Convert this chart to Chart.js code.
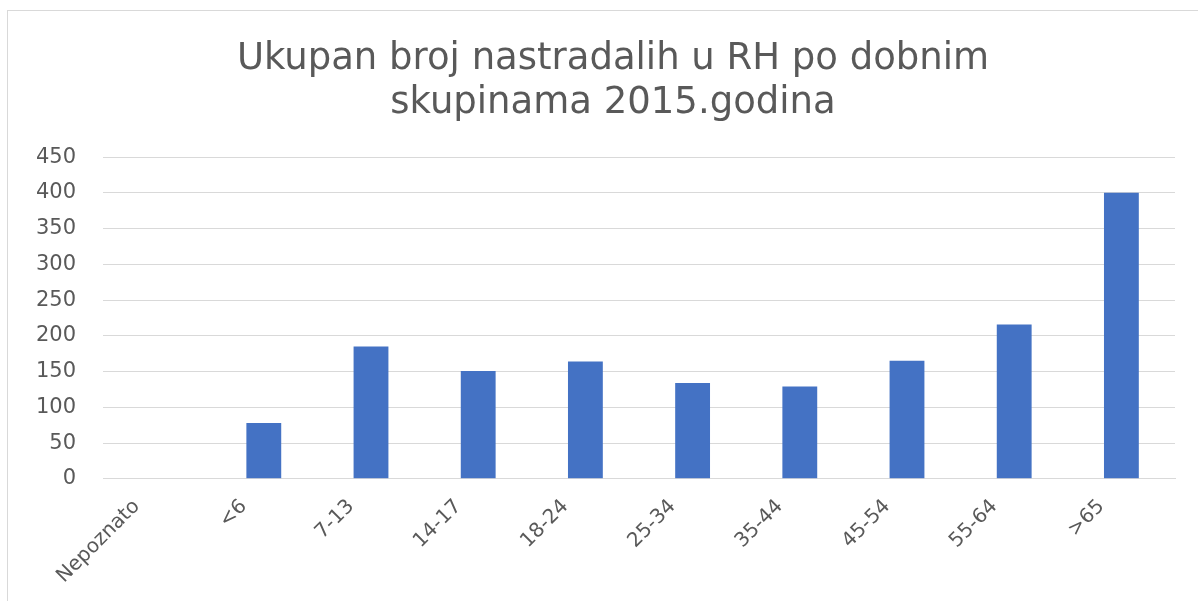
<!DOCTYPE html>
<html>
<head>
<meta charset="utf-8">
<script src="https://cdn.jsdelivr.net/npm/chart.js@4.4.0/dist/chart.umd.min.js"></script>
<style>
  html, body { margin: 0; padding: 0; background: #fff; }
  #wrap { position: relative; width: 1198px; height: 601px; overflow: hidden; }
  #frame { position: absolute; left: 7px; top: 10px; width: 1200px; height: 600px; border: 1px solid #d9d9d9; box-sizing: border-box; }
  #c { position: absolute; left: 0; top: 0; }
</style>
</head>
<body>
<div id="wrap">
  <div id="frame"></div>
  <canvas id="c" width="1198" height="606"></canvas>
</div>
<script>
// age groups and casualties
const categories = ['Nepoznato', '<6', '7-13', '14-17', '18-24', '25-34', '35-44', '45-54', '55-64', '>65'];
const casualties = [0, 78, 185, 151, 164, 134, 129, 165, 216, 400];
const yTicks = [0, 50, 100, 150, 200, 250, 300, 350, 400, 450];
const titleLines = ['Ukupan broj nastradalih u RH po dobnim', 'skupinama 2015.godina'];

const textColor = '#595959';
const fontFamily = '"DejaVu Sans", sans-serif';

new Chart(document.getElementById('c'), {
  type: 'bar',
  data: {
    labels: categories,
    datasets: [{
      data: casualties,
      backgroundColor: '#4472C4',
      borderWidth: 0,
      barPercentage: 0.65,
      categoryPercentage: 0.5
    }]
  },
  options: {
    responsive: false,
    animation: false,
    layout: { padding: { left: 28, right: 0, top: 37, bottom: 2 } },
    plugins: {
      legend: { display: false },
      tooltip: { enabled: false },
      title: {
        display: true,
        text: titleLines,
        color: textColor,
        font: { family: fontFamily, size: 37, weight: 'normal', lineHeight: 1.19 },
        padding: { top: 0, bottom: 32 }
      }
    },
    scales: {
      x: {
        grid: { display: false, drawTicks: false },
        border: { display: true, color: '#d9d9d9', width: 1 },
        // keep the plot right edge inside, so the title centres like the original
        afterFit: s => { s.paddingLeft = 0; s.paddingRight = 23; },
        ticks: {
          color: textColor,
          font: { family: fontFamily, size: 20 },
          minRotation: 45,
          maxRotation: 45,
          labelOffset: -20,
          padding: 16
        }
      },
      y: {
        min: 0,
        max: 450,
        afterBuildTicks: axis => { axis.ticks = yTicks.map(v => ({ value: v })); },
        afterFit: s => { s.width = 75; },
        grid: { color: '#d9d9d9', lineWidth: 1, drawTicks: false },
        border: { display: false },
        ticks: {
          color: textColor,
          font: { family: fontFamily, size: 21 },
          padding: 27
        }
      }
    }
  }
});
</script>
</body>
</html>
